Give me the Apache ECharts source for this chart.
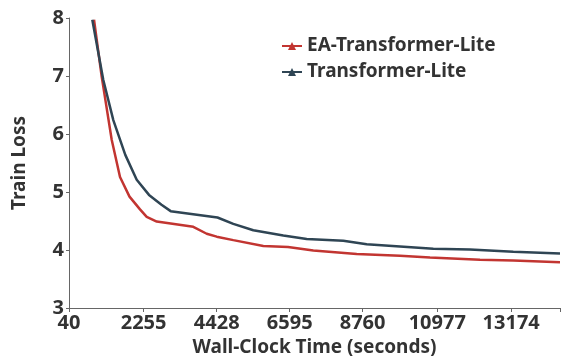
<!DOCTYPE html>
<html>
<head>
<meta charset="utf-8">
<script src="https://cdn.jsdelivr.net/npm/echarts@6/dist/echarts.min.js"></script>
<style>html,body{margin:0;padding:0;background:#fff;}#c{width:561px;height:356px;}</style>
</head>
<body>
<div id="c"></div>
<script>
var seriesNames = ['EA-Transformer-Lite', 'Transformer-Lite'];
var eaTimes = [783, 1011, 1308, 1555, 1837, 2149, 2348, 2645, 3732, 4130, 4427, 4920, 5811, 6545, 7296, 8585, 9871, 10762, 12247, 13236, 14623];
var eaLoss  = [7.97, 6.99, 5.90, 5.26, 4.92, 4.70, 4.57, 4.49, 4.40, 4.28, 4.23, 4.17, 4.07, 4.05, 3.99, 3.93, 3.90, 3.87, 3.83, 3.82, 3.79];
var tfTimes = [732, 1059, 1356, 1712, 2051, 2416, 2787, 3060, 4450, 4920, 5514, 6405, 7100, 8187, 8882, 9871, 10860, 11950, 13236, 14623];
var tfLoss  = [7.97, 6.93, 6.24, 5.64, 5.21, 4.95, 4.78, 4.67, 4.56, 4.45, 4.34, 4.25, 4.19, 4.16, 4.10, 4.06, 4.02, 4.01, 3.97, 3.94];
var xTickLabels = [40, 2255, 4428, 6595, 8760, 10977, 13174];
var xMin = 40, xMax = 14623;
var colors = ['#c23531', '#2f4554'];

function pairs(t, v) { return t.map(function (x, i) { return [x, v[i]]; }); }

var font = '"Noto Sans", "Open Sans", sans-serif';
var chart = echarts.init(document.getElementById('c'), null, {renderer: 'canvas'});
chart.setOption({
  animation: false,
  color: colors,
  textStyle: {fontFamily: font},
  grid: {left: 69, right: 1, top: 18, bottom: 48, containLabel: false, outerBoundsMode: 'none'},
  legend: {
    orient: 'vertical',
    left: 276, top: 31,
    itemWidth: 20, itemHeight: 10, itemGap: 6,
    textStyle: {fontSize: 19, fontWeight: 'bold', color: '#333', fontFamily: font, lineHeight: 20},
    data: seriesNames
  },
  xAxis: {
    type: 'value', min: xMin, max: xMax,
    name: 'Wall-Clock Time (seconds)', nameLocation: 'middle', nameGap: 29,
    nameTextStyle: {fontSize: 19, fontWeight: 'bold', color: '#333', fontFamily: font},
    axisLine: {lineStyle: {color: '#666'}},
    axisTick: {show: true, length: 4, inside: false, lineStyle: {color: '#666'}, customValues: xTickLabels.concat([xMax])},
    axisLabel: {customValues: xTickLabels, fontSize: 20, fontWeight: 'bold', color: '#333', margin: 5, fontFamily: font,
      formatter: function (v) { return String(v); }},
    splitLine: {show: false}
  },
  yAxis: {
    type: 'value', min: 3, max: 8, interval: 1,
    name: 'Train Loss', nameLocation: 'middle', nameGap: 40,
    nameTextStyle: {fontSize: 19, fontWeight: 'bold', color: '#333', fontFamily: font},
    axisLine: {show: true, lineStyle: {color: '#666'}},
    axisTick: {show: true, length: 3, lineStyle: {color: '#666'}},
    axisLabel: {fontSize: 20, fontWeight: 'bold', color: '#333', margin: 5, fontFamily: font},
    splitLine: {show: false}
  },
  series: [
    {name: seriesNames[0], type: 'line', data: pairs(eaTimes, eaLoss), symbol: 'triangle', showSymbol: false,
     lineStyle: {width: 2.5, color: colors[0]}, itemStyle: {color: colors[0]}},
    {name: seriesNames[1], type: 'line', data: pairs(tfTimes, tfLoss), symbol: 'triangle', showSymbol: false,
     lineStyle: {width: 2.5, color: colors[1]}, itemStyle: {color: colors[1]}}
  ]
});
</script>
</body>
</html>
